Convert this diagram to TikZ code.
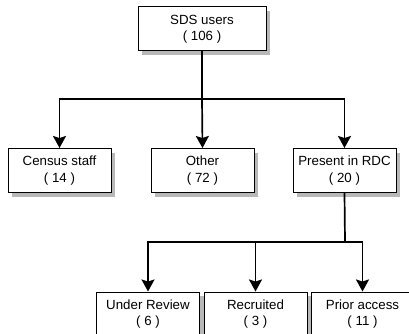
\documentclass[tikz,border=0pt]{standalone}
\usepackage{fontspec}
\setmainfont{Liberation Sans}
\usetikzlibrary{arrows.meta, shadows}

\begin{document}
\begin{tikzpicture}[x=1pt, y=-1pt,
    box/.style={draw, fill=white, line width=1pt, minimum width=103pt, minimum height=44pt,
        inner sep=0pt, align=center, font=\fontsize{13.3}{16.5}\selectfont,
        drop shadow={shadow xshift=4pt, shadow yshift=-4pt, fill=black!28, opacity=1}},
    wire/.style={line width=1.7pt},
    link/.style={wire, -{Stealth[length=12pt, width=13pt, inset=2pt]}}]
    \useasboundingbox (0,0) rectangle (409,334);

    \node[box, minimum width=128pt] (sds) at (202, 29) {SDS users\\( 106 )};

    \node[box] (census) at (59.5, 170.5) {Census staff\\( 14 )};
    \node[box] (other) at (202.5, 170.5) {Other\\( 72 )};
    \node[box] (rdc) at (344.5, 170.5) {Present in RDC\\( 20 )};

    \node[box] (review) at (148, 314) {Under Review\\( 6 )};
    \node[box] (recruited) at (255.5, 314) {Recruited\\( 3 )};
    \node[box] (prior) at (362.5, 314) {Prior access\\( 11 )};

    \coordinate (split1) at (202, 99);
    \coordinate (split2) at (345, 242);

    \draw[wire] (sds.south) -- (split1);
    \draw[link] (split1) -| (census.north);
    \draw[link] (split1) -- (other.north);
    \draw[link] (split1) -| (rdc.north);

    \draw[wire] (rdc.south) -- (split2);
    \draw[link] (split2) -| (review.north);
    \draw[link] (split2 -| recruited.north) -- (recruited.north);
    \draw[link] (split2) -| (prior.north);
\end{tikzpicture}
\end{document}
